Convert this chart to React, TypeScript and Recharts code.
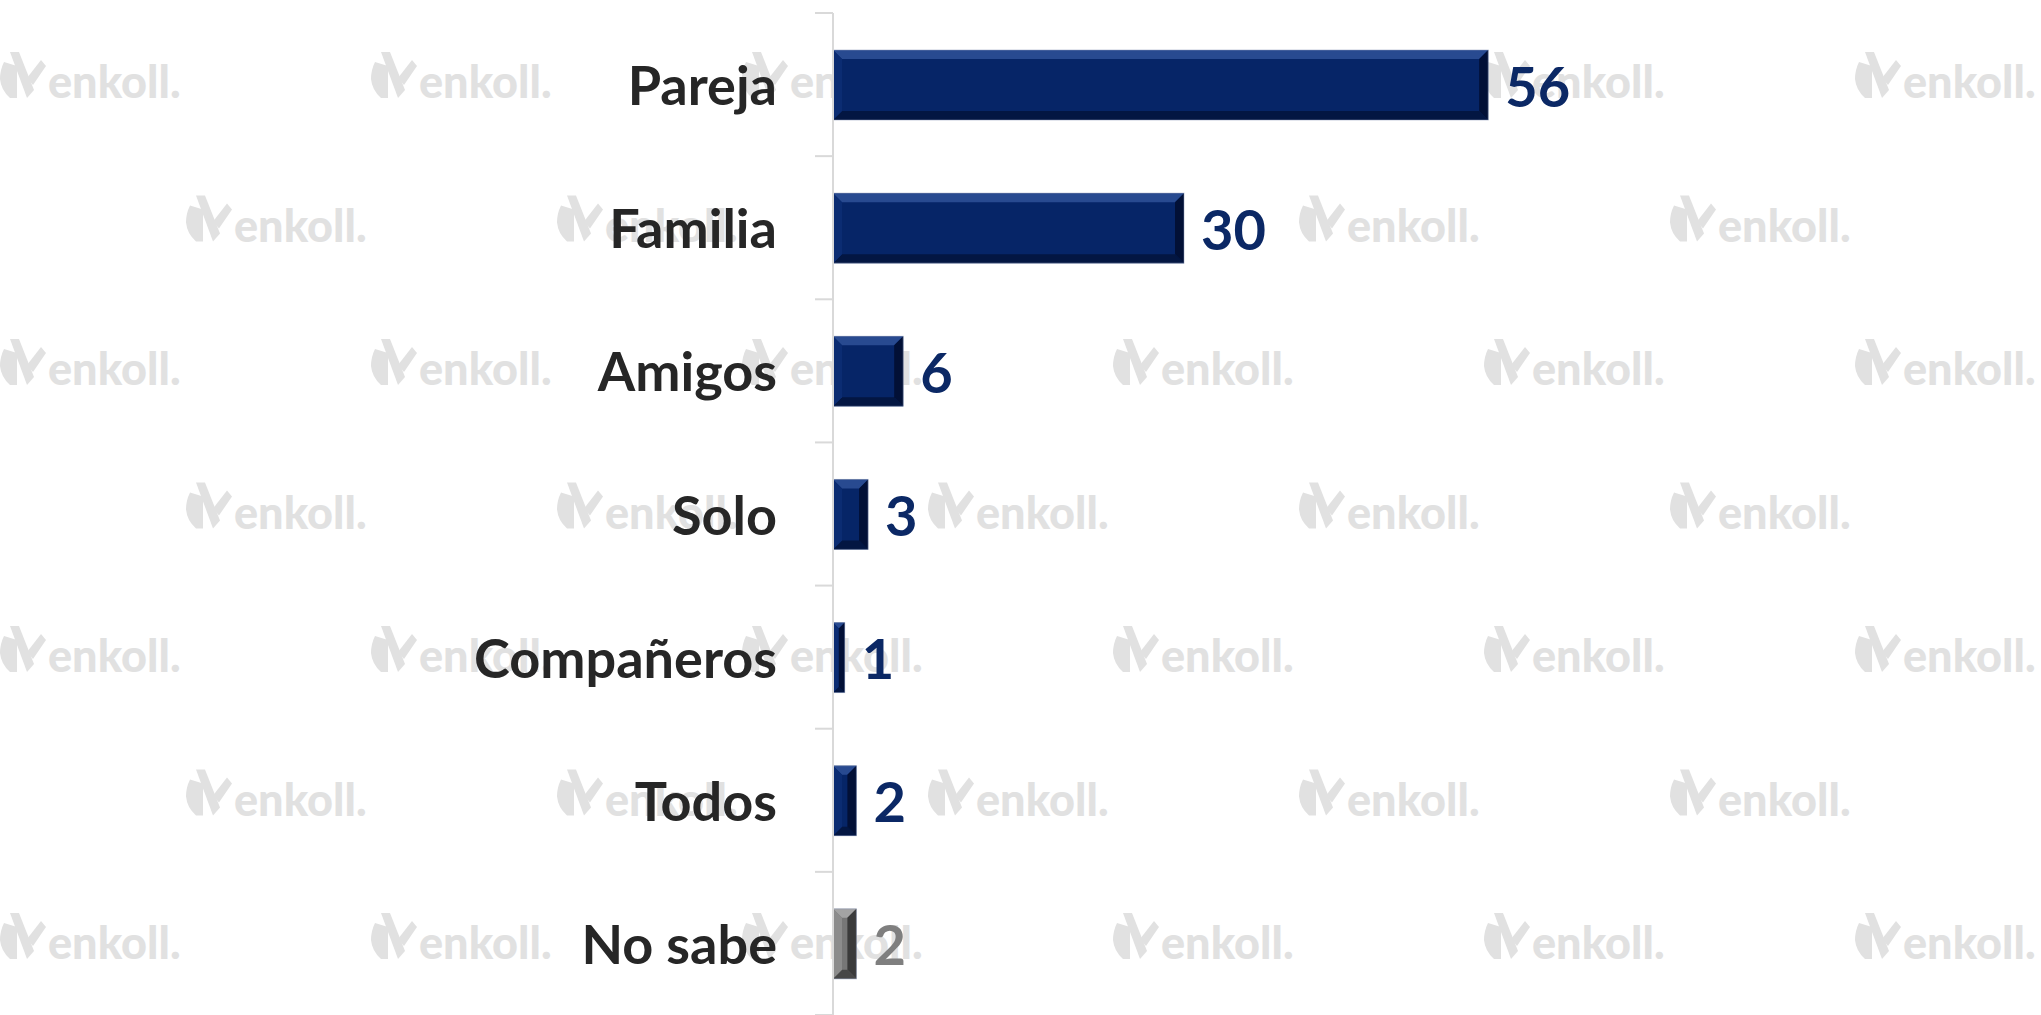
import React from 'react';
import { Bar, BarChart, LabelList, XAxis, YAxis } from 'recharts';

const categories = ['Pareja', 'Familia', 'Amigos', 'Solo', 'Compañeros', 'Todos', 'No sabe'];
const values = [56, 30, 6, 3, 1, 2, 2];
const grayCategories = ['No sabe'];

const data = categories.map((name, i) => ({ name, value: values[i] }));

const W = 2041;
const H = 1015;
const AXIS_X = 833;
const TOP = 13;
const BAND = (H - TOP) / categories.length;
const FONT = 'Lato, "Open Sans", sans-serif';

const NAVY = { base: '#062567', top: '#284a90', bottom: '#031642', left: '#0b2c72', right: '#021036', label: '#0b2865' };
const GRAY = { base: '#777777', top: '#a3a3a3', bottom: '#474747', left: '#8c8c8c', right: '#3a3a3a', label: '#7f7f7f' };

const paletteFor = (name: string) => (grayCategories.includes(name) ? GRAY : NAVY);

const BevelBar = (props: any) => {
  const { x, y, width, height, payload } = props;
  if (!width || width <= 0) return null;
  const pal = paletteFor(payload.name);
  const b = Math.min(9, width / 2, height / 2);
  const x2 = x + width;
  const y2 = y + height;
  return (
    <g>
      <rect x={x} y={y} width={width} height={height} fill={pal.base} />
      <polygon points={`${x},${y} ${x2},${y} ${x2 - b},${y + b} ${x + b},${y + b}`} fill={pal.top} />
      <polygon points={`${x},${y2} ${x2},${y2} ${x2 - b},${y2 - b} ${x + b},${y2 - b}`} fill={pal.bottom} />
      <polygon points={`${x},${y} ${x + b},${y + b} ${x + b},${y2 - b} ${x},${y2}`} fill={pal.left} />
      <polygon points={`${x2},${y} ${x2 - b},${y + b} ${x2 - b},${y2 - b} ${x2},${y2}`} fill={pal.right} />
      <rect x={x} y={y} width={width} height={height} fill="none" stroke="#8c9ab8" strokeOpacity={0.5} strokeWidth={1} />
    </g>
  );
};

const CategoryTick = (props: any) => {
  const { y, payload, index } = props;
  const half = BAND / 2;
  return (
    <g>
      <text
        x={AXIS_X - 56}
        y={y}
        textAnchor="end"
        dominantBaseline="central"
        fontFamily={FONT}
        fontWeight={700}
        fontSize={54}
        fill="#262626"
      >
        {payload.value}
      </text>
      <line x1={AXIS_X - 18} x2={AXIS_X} y1={y - half} y2={y - half} stroke="#d9d9d9" strokeWidth={2} />
      {index === categories.length - 1 && (
        <line x1={AXIS_X - 18} x2={AXIS_X} y1={y + half} y2={y + half} stroke="#d9d9d9" strokeWidth={2} />
      )}
    </g>
  );
};

const ValueLabel = (props: any) => {
  const { x, y, width, height, value, index } = props;
  const pal = paletteFor(categories[index]);
  return (
    <text
      x={x + width + 17}
      y={y + height / 2}
      dominantBaseline="central"
      fontFamily={FONT}
      fontWeight={700}
      fontSize={56}
      fill={pal.label}
    >
      {value}
    </text>
  );
};

// faint "enkoll." watermark tiled behind the chart
const Logo = ({ x, y }: { x: number; y: number }) => (
  <g transform={`translate(${x},${y})`} fill="#e1e1e1">
    <path d="M4 10 Q0 18 0 27 Q1 38 10 46 L17 46 L17 14 Z" />
    <polygon points="10,0 19,0 34,38 27,46" />
    <polygon points="27,26 41,8 46,14 33,33" />
    <text x={48} y={46} fontFamily={FONT} fontWeight={900} fontSize={45}>
      enkoll.
    </text>
  </g>
);

const Watermark = () => {
  const marks: React.ReactNode[] = [];
  for (let r = 0; r < 7; r++) {
    const offset = r % 2 === 0 ? 0 : 186;
    for (let c = 0; c < 6; c++) {
      marks.push(<Logo key={`${r}-${c}`} x={offset + c * 371} y={52 + r * 143.5} />);
    }
  }
  return (
    <svg width={W} height={H} style={{ position: 'absolute', left: 0, top: 0 }}>
      {marks}
    </svg>
  );
};

export default function App() {
  return (
    <div style={{ position: 'absolute', left: 0, top: 0, width: W, height: H, background: '#ffffff', overflow: 'hidden' }}>
      <Watermark />
      <div style={{ position: 'absolute', left: 0, top: 0 }}>
        <BarChart
          width={W}
          height={H}
          data={data}
          layout="vertical"
          margin={{ top: TOP, right: W - AXIS_X - 1170, bottom: 0, left: 0 }}
          barCategoryGap={0}
        >
          <XAxis type="number" domain={[0, 100]} hide />
          <YAxis
            type="category"
            dataKey="name"
            width={AXIS_X}
            axisLine={{ stroke: '#d9d9d9', strokeWidth: 2 }}
            tickLine={false}
            tick={<CategoryTick />}
            interval={0}
          />
          <Bar dataKey="value" barSize={70} shape={<BevelBar />} isAnimationActive={false}>
            <LabelList dataKey="value" content={<ValueLabel />} />
          </Bar>
        </BarChart>
      </div>
    </div>
  );
}
